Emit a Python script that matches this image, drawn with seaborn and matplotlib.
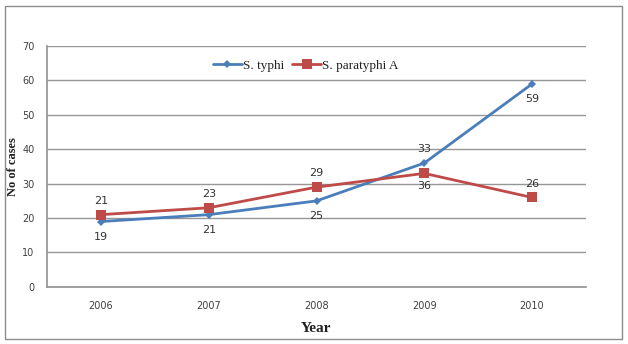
import matplotlib
matplotlib.use("Agg")
import matplotlib.pyplot as plt
import seaborn as sns
import pandas as pd

years = ["2006", "2007", "2008", "2009", "2010"]
typhi = [19, 21, 25, 36, 59]
paratyphi = [21, 23, 29, 33, 26]
typhi_labels = ["19", "21", "25", "33", "59"]
paratyphi_labels = ["21", "23", "29", "36", "26"]
series_names = ["S. typhi", "S. paratyphi A"]

df = pd.DataFrame({
    "Year": years * 2,
    "Cases": typhi + paratyphi,
    "Series": [series_names[0]] * 5 + [series_names[1]] * 5,
})

sns.set_theme(style="white")
plt.rcParams["font.family"] = ["DejaVu Sans"]

fig = plt.figure(figsize=(6.28, 3.44), dpi=100)
ax = fig.add_axes([0.075, 0.166, 0.858, 0.700])

blue = "#4A7EBB"
red = "#BE4B48"
sns.lineplot(data=df, x="Year", y="Cases", hue="Series", style="Series",
             palette={series_names[0]: blue, series_names[1]: red},
             markers={series_names[0]: "D", series_names[1]: "s"},
             dashes=False, linewidth=2, markersize=6, markeredgewidth=0,
             sort=False, ax=ax)
for ln in ax.get_lines():
    if ln.get_marker() == "s":
        ln.set_markersize(7.5)
    elif ln.get_marker() == "D":
        ln.set_markersize(4.5)

ax.set_ylim(0, 70)
ax.set_xlim(-0.5, 4.5)
ax.set_yticks(range(0, 71, 10))
ax.grid(axis="y", color="#969696", linewidth=1)
ax.set_axisbelow(True)
for s in ["top", "right"]:
    ax.spines[s].set_visible(False)
ax.spines["left"].set_color("#969696")
ax.spines["bottom"].set_color("#969696")
ax.tick_params(axis="both", labelsize=7, colors="#404040", length=0)
ax.tick_params(axis="y", pad=9)
ax.tick_params(axis="x", pad=10)

ax.set_xlabel("Year", family="Liberation Serif", fontweight="bold", fontsize=11, labelpad=8, color="#222222")
ax.set_ylabel("No of cases", family="Liberation Serif", fontweight="bold", fontsize=9, labelpad=2, color="#222222")

for i, (v, t) in enumerate(zip(typhi, typhi_labels)):
    off = 10 if i == 3 else -11
    ax.annotate(t, (years[i], v), xytext=(0, off), textcoords="offset points",
                ha="center", va="center", fontsize=8, color="#333333")
for i, (v, t) in enumerate(zip(paratyphi, paratyphi_labels)):
    off = -9 if i == 3 else 10
    ax.annotate(t, (years[i], v), xytext=(0, off), textcoords="offset points",
                ha="center", va="center", fontsize=8, color="#333333")

leg = ax.legend(loc="upper center", bbox_to_anchor=(0.48, 0.965), ncol=2, frameon=False,
                prop={"family": "Liberation Serif", "size": 9.5}, handlelength=2.2,
                columnspacing=0.6, handletextpad=0.1, borderaxespad=0)
for txt in leg.get_texts():
    txt.set_color("#222222")

fig.patches.append(plt.Rectangle((0.008, 0.015), 0.982, 0.968, transform=fig.transFigure,
                                 fill=False, edgecolor="#8C8C8C", linewidth=1))

fig.savefig("out.png", dpi=100)
